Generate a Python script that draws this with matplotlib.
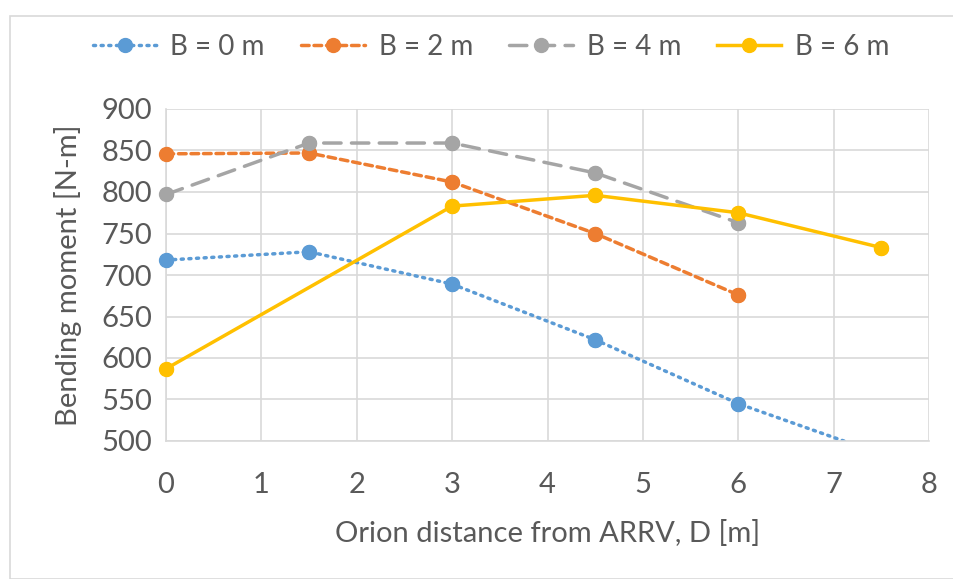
import numpy as np
import matplotlib.pyplot as plt
from matplotlib.patches import Rectangle

plt.rcParams['font.family'] = ['Lato', 'DejaVu Sans']

# data
D = [0, 1.5, 3, 4.5, 6, 7.5]
m_b0 = [718, 728, 689, 622, 545, 484]
m_b2 = [846, 847, 812, 750, 676]
m_b4 = [797, 859, 859, 823, 763]
D_b6 = [0, 3, 4.5, 6, 7.5]
m_b6 = [587, 783, 796, 775, 733]
labels = ['B = 0 m', 'B = 2 m', 'B = 4 m', 'B = 6 m']

txt = '#595959'
grid_c = '#d9d9d9'
fs = 21

fig = plt.figure(figsize=(9.54, 5.79), dpi=100)
fig.patches.append(Rectangle((10/954, 0), 1, 1 - 16/579, transform=fig.transFigure,
                             fill=False, edgecolor=grid_c, lw=1.2))

ax = fig.add_axes([166/954, 1 - 441/579, (929-166)/954, (441-109)/579])

series = [
    (D, m_b0, '#5B9BD5', (0, (0.6, 1.6))),
    (D[:5], m_b2, '#ED7D31', (0, (2.2, 1.4))),
    (D[:5], m_b4, '#A5A5A5', (0, (5, 3))),
    (D_b6, m_b6, '#FFC000', '-'),
]
for (x, y, c, ls), lab in zip(series, labels):
    ax.plot(x, y, color=c, lw=2.5, ls=ls, dash_capstyle='round',
            marker='o', ms=10, label=lab)
    # markers drawn unclipped so they sit fully on the axis edge
    xv = [a for a, b in zip(x, y) if b >= 500]
    yv = [b for b in y if b >= 500]
    ax.plot(xv, yv, ls='none', marker='o', ms=10, color=c, clip_on=False, zorder=3)

ax.set_xlim(0, 8)
ax.set_ylim(500, 900)
ax.set_xticks(np.arange(0, 9, 1))
ax.set_yticks(np.arange(500, 901, 50))
ax.grid(True, color=grid_c, lw=1.2)
ax.set_axisbelow(True)
for s in ['top', 'right']:
    ax.spines[s].set_visible(False)
for s in ['left', 'bottom']:
    ax.spines[s].set_color(grid_c)
    ax.spines[s].set_linewidth(1.2)
ax.tick_params(length=0, labelsize=fs, colors=txt)
ax.tick_params(axis='x', pad=22)
ax.tick_params(axis='y', pad=10)

ax.set_xlabel('Orion distance from ARRV, D [m]', fontsize=fs, color=txt, labelpad=16)
ax.set_ylabel('Bending moment [N-m]', fontsize=fs, color=txt, labelpad=14)

leg = ax.legend(loc='center', bbox_to_anchor=(0.426, 1.187), ncol=4, frameon=False,
                fontsize=20, handlelength=2.3, columnspacing=1.3, handletextpad=0.5)
for t in leg.get_texts():
    t.set_color(txt)

fig.savefig('out.png', dpi=100)
